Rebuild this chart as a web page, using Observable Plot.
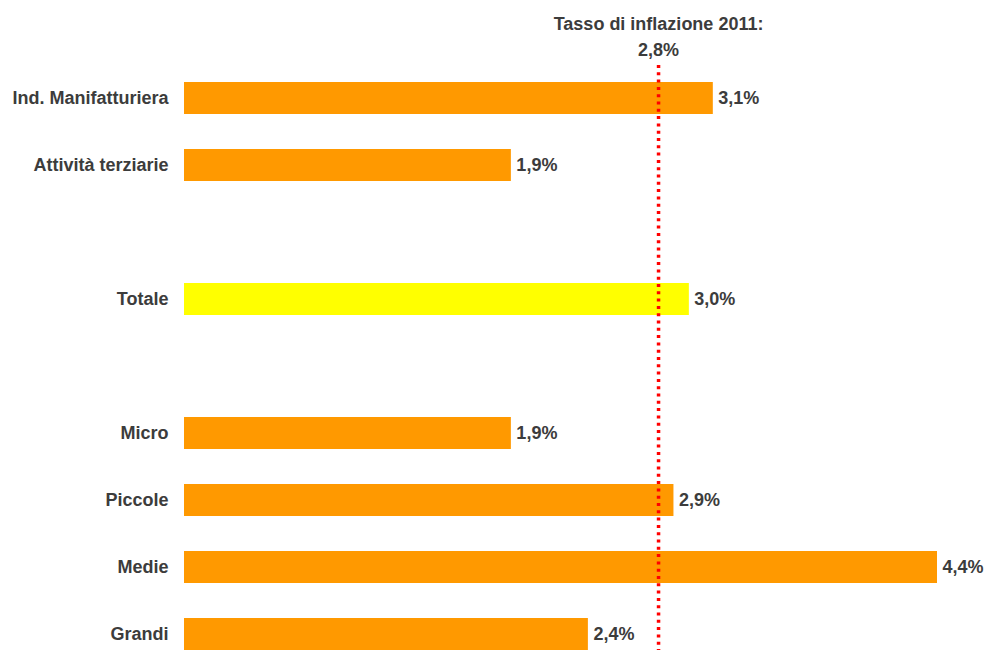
<!DOCTYPE html>
<html>
<head>
<meta charset="utf-8">
<script src="https://cdn.jsdelivr.net/npm/d3@7"></script>
<script src="https://cdn.jsdelivr.net/npm/@observablehq/plot@0.6"></script>
<style>
  html, body { margin: 0; padding: 0; background: #fff; }
</style>
</head>
<body>
<div id="chart"></div>
<script>
// Data (labels show one decimal)
const categories = ["Ind. Manifatturiera", "Attività terziarie", "Totale", "Micro", "Piccole", "Medie", "Grandi"];
const values = [3.09, 1.91, 2.95, 1.91, 2.86, 4.4, 2.36];
const rowOrder = ["Ind. Manifatturiera", "Attività terziarie", "gap1", "Totale", "gap2", "Micro", "Piccole", "Medie", "Grandi"];
const highlight = "Totale";
const inflationLabel = "Tasso di inflazione 2011:";
const inflationValue = 2.77;

const data = categories.map((c, i) => ({cat: c, value: values[i]}));
const fmt = v => (Math.round(v * 10) / 10).toFixed(1).replace(".", ",") + "%";
const ORANGE = "#ff9900", YELLOW = "#ffff00", TEXT = "#3c3c3c";
const FS = 18;

const chart = Plot.plot({
  width: 984,
  height: 650,
  marginLeft: 184,
  marginRight: 47,
  marginTop: 82,
  marginBottom: 0,
  style: {fontFamily: "'Liberation Sans', Arial, sans-serif", fontSize: FS + "px", fontWeight: "bold", color: TEXT, background: "#fff"},
  x: {domain: [0, 4.4], axis: null},
  y: {domain: rowOrder, paddingInner: 0.515, paddingOuter: 0, range: [82, 651.4], label: null},
  color: {type: "identity"},
  marks: [
    Plot.barX(data, {x: "value", y: "cat", fill: d => d.cat === highlight ? YELLOW : ORANGE}),
    Plot.axisY({tickSize: 0, tickPadding: 16, tickFormat: d => d.startsWith("gap") ? "" : d, fill: TEXT, fontSize: FS, fontWeight: "bold"}),
    Plot.text(data, {x: "value", y: "cat", text: d => fmt(d.value), textAnchor: "start", dx: 5, fill: TEXT, fontSize: FS, fontWeight: "bold"}),
    Plot.ruleX([inflationValue], {stroke: "#ff0000", strokeWidth: 3.5, strokeDasharray: "3,4.3", insetTop: -17}),
    Plot.text([inflationValue], {x: d => d, text: d => inflationLabel + "\n" + fmt(d), frameAnchor: "top", lineAnchor: "bottom", dy: -27, lineHeight: 1.39, fill: TEXT, fontSize: FS, fontWeight: "bold"})
  ]
});
document.getElementById("chart").appendChild(chart);
</script>
</body>
</html>
